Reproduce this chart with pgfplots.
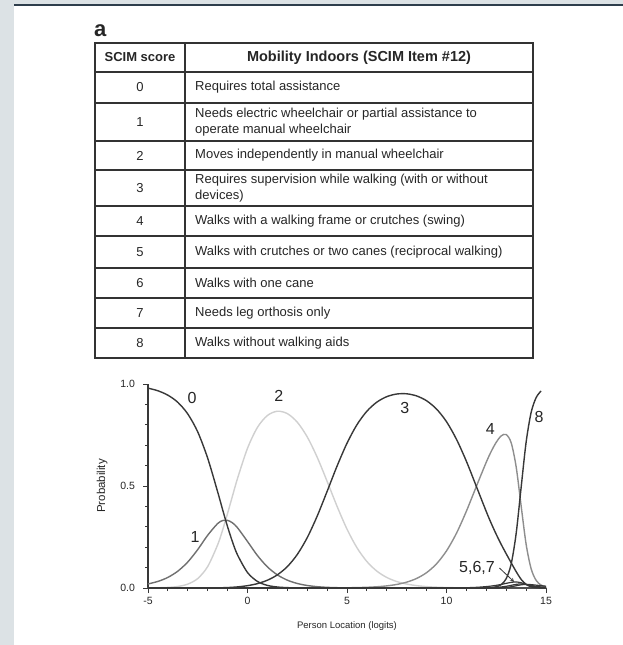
\documentclass[border=0pt]{standalone}
\usepackage{fontspec}
\setmainfont{Liberation Sans}
\usepackage{pgfplots}
\pgfplotsset{compat=1.18}
\definecolor{bggrey}{HTML}{DCE2E5}
\definecolor{topline}{HTML}{2E3E4C}
\definecolor{tab}{HTML}{333333}
\definecolor{txt}{HTML}{262626}
\definecolor{cdark}{HTML}{383838}
\definecolor{cmid}{HTML}{707070}
\definecolor{clight}{HTML}{D0D0D0}
\definecolor{cfour}{HTML}{8E8E8E}
\begin{document}
\begin{tikzpicture}[x=1pt,y=1pt]
\fill[white] (0pt,0pt) rectangle (623pt,645pt);
\fill[bggrey] (0pt,0pt) rectangle (14pt,645pt);
\fill[bggrey] (14pt,641pt) rectangle (623pt,645pt);
\fill[topline] (14pt,639pt) rectangle (623pt,641pt);
\node[font=\fontsize{22}{22}\selectfont\bfseries, anchor=west, inner sep=0, txt] at (94pt,614pt) {a};
% table
\draw[tab, line width=1.6pt] (95pt,602pt) rectangle (533pt,287pt);
\draw[tab, line width=1.6pt] (185pt,602pt) -- (185pt,287pt);
\foreach \y in {573,542,504,475,439,409,377,347,317} \draw[tab,line width=1.6pt] (95pt,\y pt) -- (533pt,\y pt);
\node[font=\fontsize{13}{13}\selectfont\bfseries, txt] at (140pt,587.5pt) {SCIM score};
\node[font=\fontsize{14.5}{14.5}\selectfont\bfseries, txt] at (359pt,587.5pt) {Mobility Indoors (SCIM Item \#12)};
\begin{scope}[every node/.style={font=\fontsize{13}{16}\selectfont, txt}]
\node at (140pt,557.5pt) {0};
\node at (140pt,523pt) {1};
\node at (140pt,489.5pt) {2};
\node at (140pt,457pt) {3};
\node at (140pt,424pt) {4};
\node at (140pt,393pt) {5};
\node at (140pt,362pt) {6};
\node at (140pt,332pt) {7};
\node at (140pt,302pt) {8};
\node[anchor=west, inner sep=0] at (195pt,557.5pt) {Requires total assistance};
\node[anchor=west, inner sep=0, align=left] at (195pt,523pt) {Needs electric wheelchair or partial assistance to\\operate manual wheelchair};
\node[anchor=west, inner sep=0] at (195pt,489.5pt) {Moves independently in manual wheelchair};
\node[anchor=west, inner sep=0, align=left] at (195pt,457pt) {Requires supervision while walking (with or without\\devices)};
\node[anchor=west, inner sep=0] at (195pt,424pt) {Walks with a walking frame or crutches (swing)};
\node[anchor=west, inner sep=0] at (195pt,393pt) {Walks with crutches or two canes (reciprocal walking)};
\node[anchor=west, inner sep=0] at (195pt,362pt) {Walks with one cane};
\node[anchor=west, inner sep=0] at (195pt,332pt) {Needs leg orthosis only};
\node[anchor=west, inner sep=0] at (195pt,302pt) {Walks without walking aids};
\end{scope}
\begin{axis}[
  at={(148pt,57pt)}, anchor=south west,
  scale only axis, width=398pt, height=204pt,
  xmin=-5, xmax=15, ymin=0, ymax=1,
  axis lines=left, axis line style={-, line width=1.4pt, color=cdark},
  xtick={-5,0,5,10,15}, ytick={0,0.5,1}, yticklabels={0.0,0.5,1.0},
  minor x tick num=4, minor y tick num=4,
  tick align=outside, major tick length=5pt, minor tick length=3pt,
  tick style={line width=0.9pt, color=cdark},
  ticklabel style={font=\fontsize{10.5}{10.5}\selectfont, txt},
  yticklabel style={xshift=-4.5pt},
  xticklabel style={yshift=-1pt},
  /pgf/number format/assume math mode=true,
  xlabel={Person Location (logits)}, ylabel={Probability},
  xlabel style={font=\fontsize{9.5}{9.5}\selectfont, txt, at={(axis description cs:0.5,-0.186)}, anchor=center},
  ylabel style={font=\fontsize{11.5}{11.5}\selectfont, txt, at={(axis description cs:-0.115,0.5)}, anchor=center},
  clip=false,
]
% category 2
\addplot[clight, line width=1.4pt, smooth] coordinates {
(-5,0.0004) (-4.5,0.0011) (-4,0.0029) (-3.5,0.0075) (-3,0.0191) (-2.5,0.0465) (-2,0.1052) (-1.5,0.2118) (-1.25,0.2844) (-1,0.3664) (-0.75,0.4527) (-0.5,0.5376) (0,0.6848) (0.5,0.7874) (1,0.8456) (1.5,0.8665) (2,0.855) (2.5,0.813) (3,0.7409) (3.5,0.6414) (4,0.5232) (4.5,0.4005) (5,0.2886) (5.5,0.1974) (6,0.1296) (6.5,0.0827) (7,0.0516) (7.5,0.0317) (8,0.0193) (8.5,0.0116) (9,0.0068) (9.5,0.0040) (10,0.0022) (10.5,0.0012) (11,0.0006) (12,0.0001) (15,0)};
% category 4
\addplot[cfour, line width=1.4pt, smooth] coordinates {
(-5,0) (2,0) (3,0.00005) (3.5,0.0001) (4,0.0003) (4.5,0.0005) (5,0.0011) (5.5,0.002) (6,0.0035) (6.5,0.0061) (7,0.0104) (7.5,0.0174) (8,0.0287) (8.5,0.0469) (9,0.0753) (9.5,0.1187) (10,0.1819) (10.5,0.2682) (11,0.3767) (11.5,0.498) (12,0.6171) (12.25,0.670) (12.5,0.7146) (12.75,0.7457) (13,0.7523) (13.25,0.7118) (13.5,0.5942) (13.75,0.4033) (14,0.2151) (14.25,0.0952) (14.5,0.038) (14.75,0.0145) (15,0.0054)};
% category 1
\addplot[cmid, line width=1.4pt, smooth] coordinates {
(-5,0.0198) (-4.5,0.0323) (-4,0.0520) (-3.5,0.0826) (-3,0.1276) (-2.5,0.1886) (-2,0.2587) (-1.5,0.316) (-1.25,0.3304) (-1,0.3315) (-0.75,0.319) (-0.5,0.2950) (0,0.2280) (0.5,0.1590) (1,0.1036) (1.5,0.0644) (2,0.0385) (2.5,0.0222) (3,0.0123) (3.5,0.0065) (4,0.0032) (4.5,0.0015) (5,0.0006) (6,0.0001) (15,0)};
% category 0
\addplot[cdark, line width=1.4pt, smooth] coordinates {
(-5,0.9798) (-4.5,0.9667) (-4,0.9451) (-3.5,0.910) (-3,0.853) (-2.5,0.765) (-2,0.636) (-1.5,0.4714) (-1.25,0.3839) (-1,0.300) (-0.75,0.2248) (-0.5,0.1619) (0,0.0759) (0.5,0.0321) (1,0.0127) (1.5,0.0048) (2,0.0017) (2.5,0.0006) (3,0.0002) (4,0) (15,0)};
% category 3
\addplot[cdark, line width=1.4pt, smooth] coordinates {
(-5,0) (-2,0.0002) (-1.5,0.0008) (-1,0.0022) (-0.5,0.0054) (0,0.0114) (0.5,0.0215) (1,0.0381) (1.5,0.0644) (2,0.1047) (2.5,0.1641) (3,0.2466) (3.5,0.352) (4,0.4734) (4.5,0.5975) (5,0.7097) (5.5,0.8004) (6,0.8667) (6.5,0.9112) (7,0.938) (7.5,0.9509) (8,0.952) (8.5,0.9415) (9,0.9178) (9.5,0.8771) (10,0.8153) (10.5,0.7291) (11,0.6211) (11.5,0.498) (12,0.3743) (12.25,0.3165) (12.5,0.2629) (12.75,0.2136) (13,0.1678) (13.25,0.1237) (13.5,0.0804) (13.75,0.0425) (14,0.0177) (14.25,0.0061) (14.5,0.0019) (14.75,0.0006) (15,0.0002)};
% category 5
\addplot[cdark, line width=1.2pt, smooth] coordinates {
(-5,0) (10,0) (11,0.0015) (11.5,0.0033) (12,0.0069) (12.25,0.0096) (12.5,0.0131) (12.75,0.0175) (13,0.0227) (13.25,0.0276) (13.5,0.0296) (13.75,0.0258) (14,0.0177) (14.25,0.010) (14.5,0.0051) (14.75,0.0025) (15,0.0012)};
% category 6
\addplot[cdark, line width=1.2pt, smooth] coordinates {
(-5,0) (11,0) (11.5,0.0003) (12,0.0009) (12.25,0.0017) (12.5,0.0029) (12.75,0.005) (13,0.0084) (13.25,0.013) (13.5,0.0179) (13.75,0.0201) (14,0.0177) (14.25,0.0129) (14.5,0.0085) (14.75,0.0053) (15,0.0033)};
% category 7
\addplot[cdark, line width=1.2pt, smooth] coordinates {
(-5,0) (11.5,0) (12,0.0001) (12.25,0.0003) (12.5,0.0006) (12.75,0.0014) (13,0.0031) (13.25,0.0062) (13.5,0.0109) (13.75,0.0156) (14,0.0177) (14.25,0.0165) (14.5,0.014) (14.75,0.0113) (15,0.0089)};
% category 8
\addplot[cdark, line width=1.4pt, smooth] coordinates {
(-5,0) (11.5,0.0001) (12,0.0007) (12.25,0.002) (12.5,0.0059) (12.75,0.0167) (13,0.0457) (13.25,0.1177) (13.5,0.267) (13.75,0.4926) (14,0.7142) (14.25,0.8593) (14.5,0.9325) (14.75,0.9658)};
\begin{scope}[every node/.style={font=\fontsize{16}{16}\selectfont, txt}]
\node at (axis cs:-2.79,0.93) {0};
\node at (axis cs:-2.64,0.25) {1};
\node at (axis cs:1.58,0.94) {2};
\node at (axis cs:7.9,0.88) {3};
\node at (axis cs:12.2,0.78) {4};
\node at (axis cs:14.65,0.84) {8};
\node at (axis cs:11.53,0.10) {5,6,7};
\end{scope}
\draw[cdark, line width=0.8pt, -stealth] (axis cs:12.66,0.098) -- (axis cs:13.4,0.03);
\end{axis}
\end{tikzpicture}
\end{document}
